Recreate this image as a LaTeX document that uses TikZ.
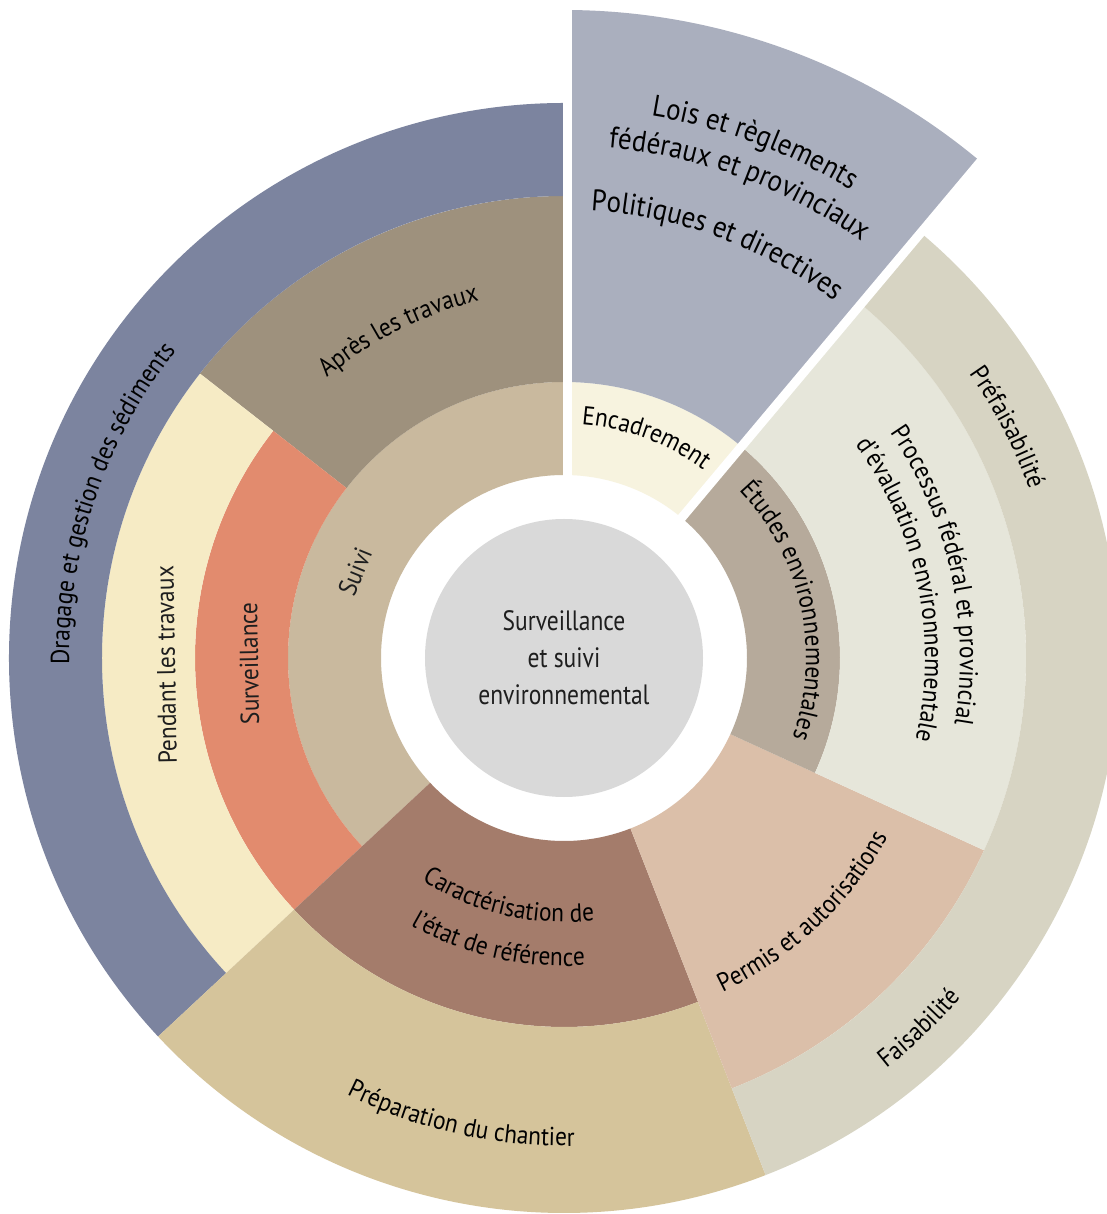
\documentclass[tikz,border=0pt]{standalone}
\usepackage{fontspec}
\setmainfont{PT Sans}[FakeStretch=0.9]
\newfontfamily\centrefont{PT Sans}[FakeStretch=0.84]
\usepackage{tikz}
\usetikzlibrary{decorations.text}

\definecolor{txt}{HTML}{1E1E1E}
\definecolor{centregray}{HTML}{D9D9D9}
\definecolor{dragage}{HTML}{7C849F}
\definecolor{apres}{HTML}{9E917D}
\definecolor{suivi}{HTML}{C9B99E}
\definecolor{surv}{HTML}{E28B6E}
\definecolor{pendant}{HTML}{F6EBC5}
\definecolor{caract}{HTML}{A47C6B}
\definecolor{prep}{HTML}{D5C49B}
\definecolor{permis}{HTML}{DBBFA9}
\definecolor{etudes}{HTML}{B6AA9B}
\definecolor{processus}{HTML}{E6E6DA}
\definecolor{faisab}{HTML}{D7D4C3}
\definecolor{encadr}{HTML}{F7F3DF}
\definecolor{lois}{HTML}{AAAFBE}

\begin{document}
\begin{tikzpicture}[x=0.5pt, y=0.5pt]
\tikzstyle{gap} = [white, line width=4.5pt]
\tikzstyle{lbl} = [text=txt, font=\fontsize{13}{16}\selectfont, align=center, inner sep=0pt]
\tikzset{ctext/.style={decorate, decoration={text along path, text align=center, text={#1}}}}
\fontsize{13}{16}\selectfont

% Frame
\useasboundingbox (-564,-556) rectangle (543,658);
\fill[white] (-564,-556) rectangle (543,658);

% Sectors, left
\fill[suivi] (90:183) arc[start angle=90, end angle=223, radius=183] -- (223:276) arc[start angle=223, end angle=90, radius=276] -- cycle;
\fill[apres] (90:276) arc[start angle=90, end angle=142, radius=276] -- (142:462) arc[start angle=142, end angle=90, radius=462] -- cycle;
\fill[surv] (142:276) arc[start angle=142, end angle=223, radius=276] -- (223:369) arc[start angle=223, end angle=142, radius=369] -- cycle;
\fill[pendant] (142:369) arc[start angle=142, end angle=223, radius=369] -- (223:462) arc[start angle=223, end angle=142, radius=462] -- cycle;
\fill[dragage] (90:462) arc[start angle=90, end angle=223, radius=462] -- (223:555) arc[start angle=223, end angle=90, radius=555] -- cycle;

% Sectors, bottom
\fill[caract] (223:183) arc[start angle=223, end angle=291.3, radius=183] -- (291.3:369) arc[start angle=291.3, end angle=223, radius=369] -- cycle;
\fill[prep] (223:369) arc[start angle=223, end angle=291.3, radius=369] -- (291.3:555) arc[start angle=291.3, end angle=223, radius=555] -- cycle;

% Sectors, right
\fill[permis] (-68.7:183) arc[start angle=-68.7, end angle=-24.6, radius=183] -- (-24.6:462) arc[start angle=-24.6, end angle=-68.7, radius=462] -- cycle;
\fill[etudes] (-24.6:183) arc[start angle=-24.6, end angle=50, radius=183] -- (50:276) arc[start angle=50, end angle=-24.6, radius=276] -- cycle;
\fill[processus] (-24.6:276) arc[start angle=-24.6, end angle=50, radius=276] -- (50:462) arc[start angle=50, end angle=-24.6, radius=462] -- cycle;
\fill[faisab] (-68.7:462) arc[start angle=-68.7, end angle=50, radius=462] -- (50:555) arc[start angle=50, end angle=-68.7, radius=555] -- cycle;

% Sectors, top
\fill[encadr] (50:183) arc[start angle=50, end angle=90, radius=183] -- (90:276) arc[start angle=90, end angle=50, radius=276] -- cycle;
\fill[lois] (50:276) arc[start angle=50, end angle=90, radius=276] -- (90:648) arc[start angle=90, end angle=50, radius=648] -- cycle;

% Gaps
\draw[gap, xshift=1.75pt] (90:178) -- (90:700);
\draw[gap] (50:178) -- (50:700);

% Centre
\node[circle, fill=centregray, minimum size=139pt, text=txt, align=center, font=\centrefont\fontsize{14}{18.5}\selectfont] (centre) at (0,0) {Surveillance\\et suivi\\environnemental};

% Straight labels
\node[lbl, rotate=67.6] (suivilbl) at (157.6:226) {Suivi};
\node[lbl, rotate=91] (survlbl) at (181:315) {Surveillance};
\node[lbl, rotate=91] (pendantlbl) at (181:398) {Pendant les travaux};

% Curved labels, clockwise
\path[ctext={Après les travaux}] (156.8:367) arc[start angle=156.8, end angle=76.8, radius=367];
\path[ctext={Dragage et gestion des sédiments}] (211.2:495) arc[start angle=211.2, end angle=111.2, radius=495];
\path[ctext={|\fontsize{15}{18}\selectfont|Lois et règlements}] (109.7:549) arc[start angle=109.7, end angle=29.7, radius=549];
\path[ctext={|\fontsize{15}{18}\selectfont|fédéraux et provinciaux}] (109.7:512) arc[start angle=109.7, end angle=29.7, radius=512];
\path[ctext={|\fontsize{15}{18}\selectfont|Politiques et directives}] (109.7:448) arc[start angle=109.7, end angle=29.7, radius=448];
\path[ctext={Encadrement}] (114.6:234) arc[start angle=114.6, end angle=24.6, radius=234];
\path[ctext={Études environnementales}] (62.3:242) arc[start angle=62.3, end angle=-37.7, radius=242];
\path[ctext={Processus fédéral et provincial}] (52.5:396) arc[start angle=52.5, end angle=-27.5, radius=396];
\path[ctext={d’évaluation environnementale}] (51.6:361) arc[start angle=51.6, end angle=-28.4, radius=361];
\path[ctext={Préfaisabilité}] (57.5:495) arc[start angle=57.5, end angle=-2.5, radius=495];

% Curved labels, counterclockwise
\path[ctext={Caractérisation de}] (212:264) arc[start angle=212, end angle=302, radius=264];
\path[ctext={l’état de référence}] (212:308) arc[start angle=212, end angle=302, radius=308];
\path[ctext={Préparation du chantier}] (217.4:488) arc[start angle=217.4, end angle=297.4, radius=488];
\path[ctext={Permis et autorisations}] (268.2:370) arc[start angle=268.2, end angle=358.2, radius=370];
\path[ctext={Faisabilité}] (283.8:522) arc[start angle=283.8, end angle=343.8, radius=522];

\end{tikzpicture}
\end{document}
